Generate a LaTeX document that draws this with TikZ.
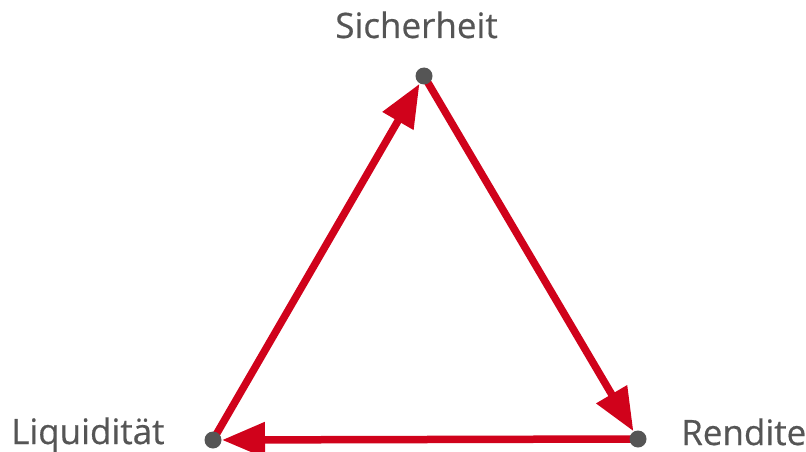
\documentclass[tikz,border=0pt]{standalone}
\usepackage{fontspec}
\setmainfont{Open Sans}
\newfontfamily\lblfont{Open Sans}[FakeBold=0.5]
\usetikzlibrary{arrows.meta}
\definecolor{arrred}{RGB}{208,2,27}
\definecolor{dotgray}{RGB}{85,85,85}
\definecolor{txtgray}{RGB}{85,85,85}
\tikzset{
  arr/.style={draw=arrred, line width=7.5pt, -{Triangle[length=43pt,width=34pt]}, shorten >=9pt},
  dot/.style={circle, fill=dotgray, minimum size=17pt, inner sep=0pt},
  lbl/.style={font=\lblfont\fontsize{35}{42}\selectfont, text=txtgray, inner sep=0pt}
}
\begin{document}
\begin{tikzpicture}[x=1pt,y=-1pt]
\useasboundingbox (0,0) rectangle (806,452);
\coordinate (T) at (424,76);
\coordinate (R) at (638,439);
\coordinate (L) at (213,440);
\draw[arr] (L) -- (T);
\draw[arr] (T) -- (R);
\draw[arr] (R) -- (L);
\node[dot] (Tdot) at (T) {};
\node[dot] (Rdot) at (R) {};
\node[dot] (Ldot) at (L) {};
\node[lbl, anchor=base] (st) at (416.5,38) {Sicherheit};
\node[lbl, anchor=base west] (rt) at (681,445) {Rendite};
\node[lbl, anchor=base west] (lt) at (11,444) {Liquidität};
\end{tikzpicture}
\end{document}
